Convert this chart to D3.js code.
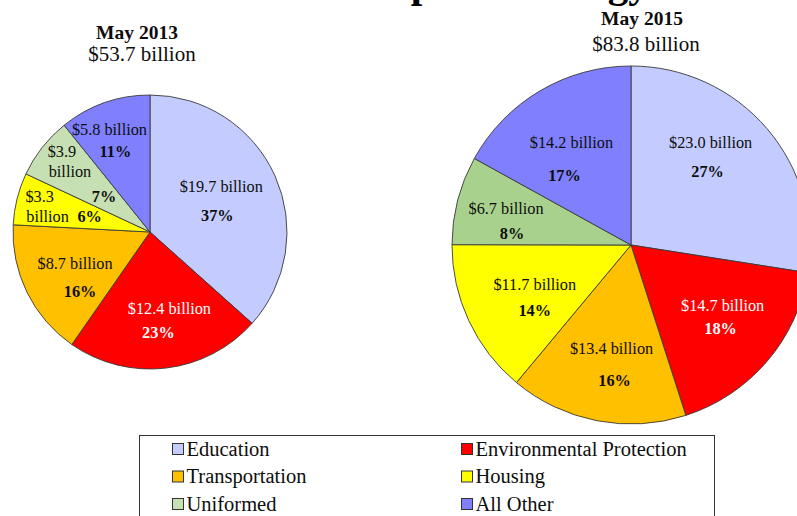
<!DOCTYPE html>
<html>
<head>
<meta charset="utf-8">
<script src="https://cdn.jsdelivr.net/npm/d3@7"></script>
<style>
  body { margin: 0; background: #fff; }
  svg text { font-family: "Liberation Serif", Tinos, "Times New Roman", "DejaVu Serif", serif; }
</style>
</head>
<body>
<div id="chart"></div>
<script>
// Daten
var categories = ["Education", "Environmental Protection", "Transportation", "Housing", "Uniformed", "All Other"]
var periods = ["May 2013", "May 2015"]
var totals = [53.7, 83.8]
var values2013 = [19.7, 12.4, 8.7, 3.3, 3.9, 5.8]
var values2015 = [23.0, 14.7, 13.4, 11.7, 6.7, 14.2]
var pct2013 = [37, 23, 16, 6, 7, 11]
var pct2015 = [27, 18, 16, 14, 8, 17]

var width = 797
var height = 516
var serif = "Liberation Serif"

// Farben
var colors2013 = ["#c3cbff", "#ff0000", "#ffc000", "#ffff00", "#c6e0b4", "#8080ff"]
var colors2015 = ["#c3cbff", "#ff0000", "#ffc000", "#ffff00", "#a9d18e", "#8080ff"]
var legendColors = ["#c3cbff", "#ff0000", "#ffc000", "#ffff00", "#c6e0b4", "#8080ff"]

// Beschriftungs-Versatz relativ zum Schwerpunkt der Segmente
var layout2013 = [
  [{k: "amt", dx: -10, dy: -9}, {k: "pct", dx: -14, dy: 20}],
  [{k: "amt", dx: 9, dy: -12}, {k: "pct", dx: -2, dy: 12}],
  [{k: "amt", dx: 5, dy: -8}, {k: "pct", dx: 10, dy: 20}],
  [{k: "num", dx: -24, dy: -14}, {k: "word", dx: -16, dy: 6}, {k: "pct", dx: 26, dy: 6}],
  [{k: "num", dx: -18, dy: -26}, {k: "word", dx: -10, dy: -6}, {k: "pct", dx: 24, dy: 19}],
  [{k: "amt", dx: -11, dy: -19}, {k: "pct", dx: -5, dy: 3}]
]
var layout2015 = [
  [{k: "amt", dx: -2, dy: -33}, {k: "pct", dx: -5, dy: -4}],
  [{k: "amt", dx: 10, dy: -9}, {k: "pct", dx: 8, dy: 14}],
  [{k: "amt", dx: 1, dy: -2}, {k: "pct", dx: 4, dy: 30}],
  [{k: "amt", dx: 1, dy: -6}, {k: "pct", dx: 1, dy: 20}],
  [{k: "amt", dx: -21, dy: -10}, {k: "pct", dx: -15, dy: 15}],
  [{k: "amt", dx: -5, dy: -10}, {k: "pct", dx: -12, dy: 23}]
]

var svg = d3.select("#chart")
  .append("svg")
  .attr("width", width)
  .attr("height", height)

// abgeschnittener Titel oben
svg.append("text")
  .attr("x", 191)
  .attr("y", -3)
  .attr("font-family", serif)
  .style("font-size", "41px")
  .style("font-weight", "bold")
  .text("Ten-Year Capital Strategy")

var pie = d3.pie().sort(null).value(function(d){ return d })

function drawPie(cx, cy, r, values, pcts, colors, layout, labelK){
  var g = svg.append("g").attr("transform", "translate(" + cx + "," + cy + ")")
  var arc = d3.arc().innerRadius(0).outerRadius(r)
  var labelArc = d3.arc().innerRadius(r * labelK).outerRadius(r * labelK)
  var arcs = pie(values)

  g.selectAll("path")
    .data(arcs)
    .enter()
    .append("path")
      .attr("d", arc)
      .attr("fill", function(d, i){ return colors[i] })
      .attr("stroke", "#3a3a3a")
      .attr("stroke-width", 0.9)

  arcs.forEach(function(d, i){
    var c = labelArc.centroid(d)
    var fill = i == 1 ? "#fff" : "#0d0d0d"
    layout[i].forEach(function(l){
      var txt, bold = false
      if (l.k == "amt") txt = "$" + values[i].toFixed(1) + " billion"
      if (l.k == "num") txt = "$" + values[i].toFixed(1)
      if (l.k == "word") txt = "billion"
      if (l.k == "pct") { txt = pcts[i] + "%"; bold = true }
      g.append("text")
        .attr("x", c[0] + l.dx)
        .attr("y", c[1] + l.dy)
        .attr("text-anchor", "middle")
        .attr("dominant-baseline", "central")
        .attr("font-family", serif)
        .style("font-size", "16.3px")
        .style("font-weight", bold ? "bold" : "normal")
        .attr("fill", fill)
        .text(txt)
    })
  })
}

drawPie(150, 232, 137, values2013, pct2013, colors2013, layout2013, 0.65)
drawPie(631, 245, 179, values2015, pct2015, colors2015, layout2015, 0.6)

// Überschriften der Kreise
var heads = [
  {x: 137, y: 32, ax: 142, ay: 54},
  {x: 642, y: 18, ax: 646, ay: 44}
]
heads.forEach(function(h, i){
  svg.append("text")
    .attr("x", h.x).attr("y", h.y)
    .attr("text-anchor", "middle")
    .attr("dominant-baseline", "central")
    .attr("font-family", serif)
    .style("font-size", "19.5px")
    .style("font-weight", "bold")
    .attr("fill", "#0d0d0d")
    .text(periods[i])
  svg.append("text")
    .attr("x", h.ax).attr("y", h.ay)
    .attr("text-anchor", "middle")
    .attr("dominant-baseline", "central")
    .attr("font-family", serif)
    .style("font-size", "21px")
    .attr("fill", "#0d0d0d")
    .text("$" + totals[i].toFixed(1) + " billion")
})

// Legende
svg.append("rect")
  .attr("x", 139.5).attr("y", 435.5)
  .attr("width", 575).attr("height", 100)
  .attr("fill", "#fff")
  .attr("stroke", "#333")
  .attr("stroke-width", 1)

var rowY = d3.scalePoint().domain([0, 1, 2]).range([449, 504])
var colX = d3.scalePoint().domain([0, 1]).range([172, 461])

var item = svg.selectAll(".legend-item")
  .data(categories)
  .enter()
  .append("g")
  .attr("class", "legend-item")
  .attr("transform", function(d, i){ return "translate(" + colX(i % 2) + "," + rowY(Math.floor(i / 2)) + ")" })

item.append("rect")
  .attr("x", 0.5).attr("y", -5.5)
  .attr("width", 11).attr("height", 11)
  .attr("fill", function(d, i){ return legendColors[i] })
  .attr("stroke", "#333")
  .attr("stroke-width", 1)

item.append("text")
  .attr("x", 14.5)
  .attr("y", 6.5)
  .attr("font-family", serif)
  .style("font-size", "20.5px")
  .attr("fill", "#0d0d0d")
  .text(function(d){ return d })
</script>
</body>
</html>
